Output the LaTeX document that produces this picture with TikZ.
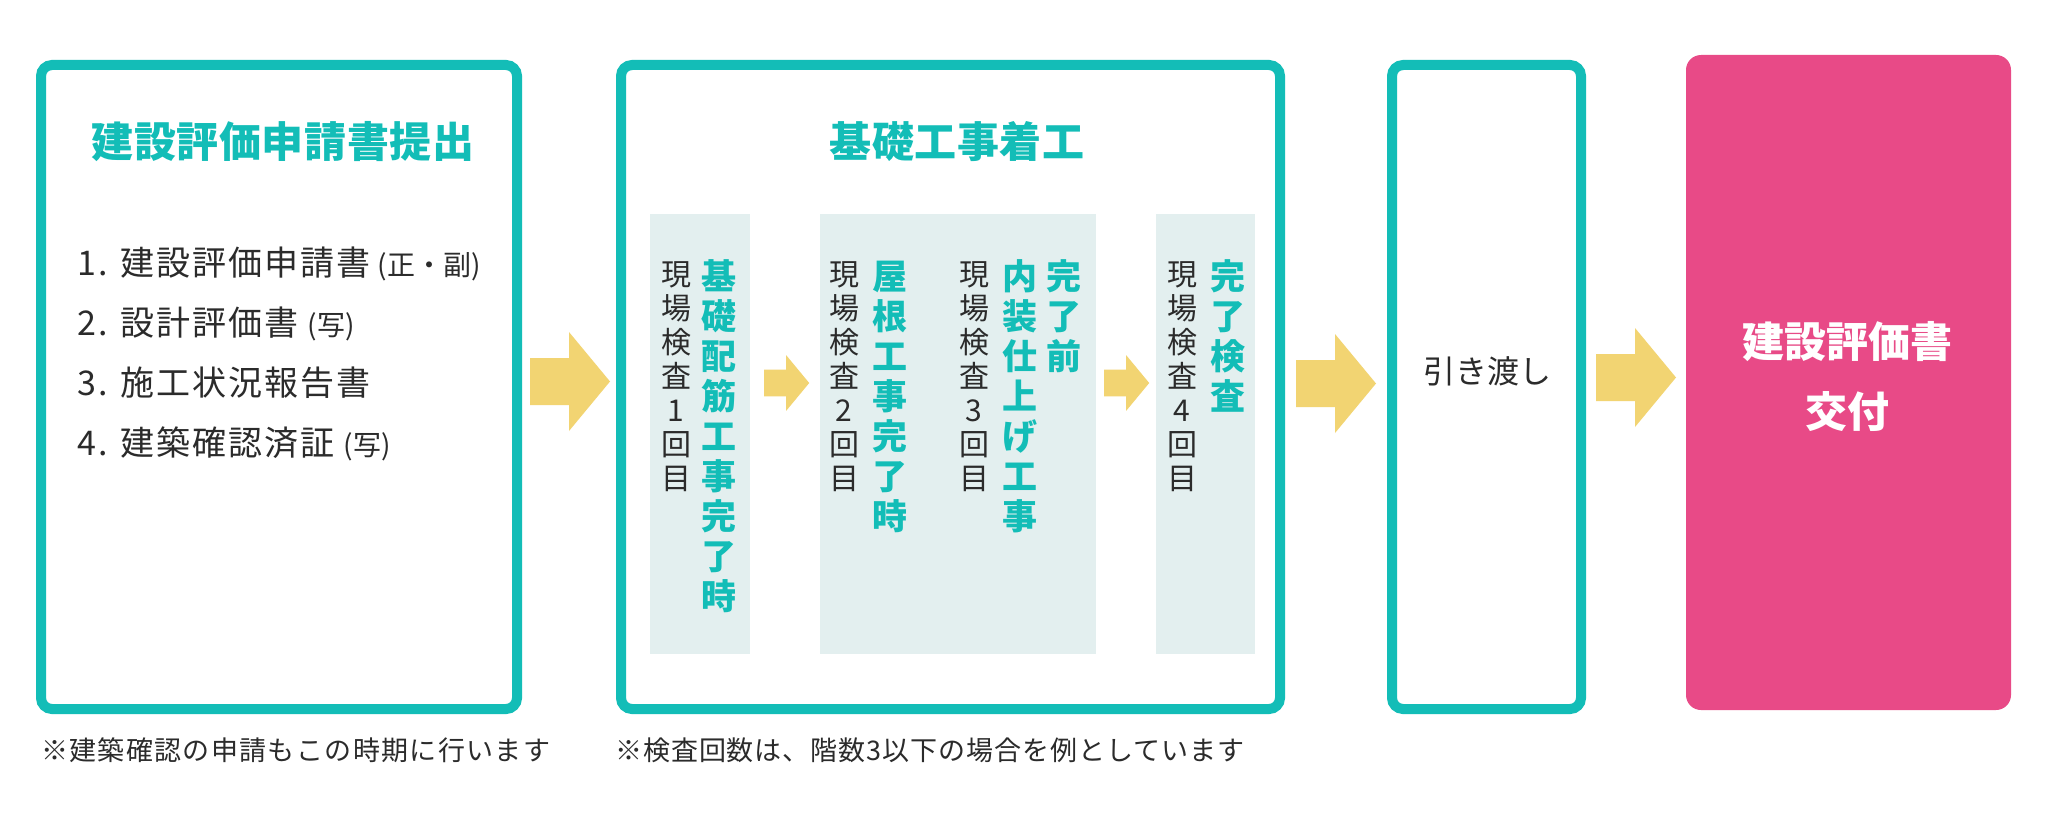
\documentclass[tikz,border=0pt]{standalone}
\usepackage{fontspec}
\setmainfont{Noto Sans CJK JP}
\definecolor{tealc}{HTML}{13BDB7}
\definecolor{pinkc}{HTML}{E84A87}
\definecolor{arrowc}{HTML}{F2D472}
\definecolor{stripec}{HTML}{E3EFEF}
\definecolor{darkc}{HTML}{2B2B2B}
\newcommand\vcolumn[6]{%
  \foreach \ch [count=\i from 0] in {#6}
    \node[#5] (#1-\i) at (#2, #3+\i*#4) {\ch};}
\begin{document}
\begin{tikzpicture}[x=1pt,y=-1pt,
  tealbox/.style={draw=tealc, line width=10pt, rounded corners=11pt, fill=white, inner sep=0pt},
  pinkbox/.style={fill=pinkc, rounded corners=15pt, inner sep=0pt},
  stripebox/.style={fill=stripec, inner sep=0pt},
  title/.style={text=tealc, font=\fontsize{42}{50}\selectfont\bfseries\addfontfeatures{LetterSpace=1.5}, anchor=base, inner sep=0pt},
  wtitle/.style={text=white, font=\fontsize{42}{50}\selectfont\bfseries, anchor=base, inner sep=0pt},
  item/.style={text=darkc, font=\fontsize{34}{40}\selectfont\addfontfeatures{LetterSpace=6}, anchor=base west, inner sep=0pt},
  paren/.style={text=darkc, font=\fontsize{28}{32}\selectfont, anchor=base west, inner sep=0pt},
  plain/.style={text=darkc, font=\fontsize{32}{38}\selectfont, anchor=base, inner sep=0pt},
  note/.style={text=darkc, font=\fontsize{27}{30}\selectfont\addfontfeatures{LetterSpace=5}, anchor=base west, inner sep=0pt},
  note2/.style={text=darkc, font=\fontsize{27}{30}\selectfont\addfontfeatures{LetterSpace=3.5}, anchor=base west, inner sep=0pt},
  vg/.style={text=darkc, font=\fontsize{30}{34}\selectfont, anchor=base, inner sep=0pt},
  vt/.style={text=tealc, font=\fontsize{35}{40}\selectfont\bfseries, anchor=base, inner sep=0pt},
  bigarrow/.pic={\fill[arrowc] (0,-23.5) -- (39,-23.5) -- (39,-49.5) -- (80,0) -- (39,49.5) -- (39,23.5) -- (0,23.5) -- cycle;}
]
\useasboundingbox (0,0) rectangle (2048,824);
\fill[white] (0,0) rectangle (2048,824);

% boxes
\node[tealbox, minimum width=476pt, minimum height=644pt] (b1) at (279,387) {};
\node[tealbox, minimum width=659pt, minimum height=644pt] (b2) at (950.5,387) {};
\node[tealbox, minimum width=189pt, minimum height=644pt] (b3) at (1486.5,387) {};
\node[pinkbox, minimum width=325pt, minimum height=655pt] (b4) at (1848.5,382.5) {};

% stripes
\node[stripebox, minimum width=100pt, minimum height=440pt] (s1) at (700,434) {};
\node[stripebox, minimum width=276pt, minimum height=440pt] (s2) at (958,434) {};
\node[stripebox, minimum width=99pt, minimum height=440pt] (s3) at (1205.5,434) {};

% big arrows
\pic at (530,381.5) {bigarrow};
\pic at (1296,383.5) {bigarrow};
\pic at (1596,377.5) {bigarrow};
% small arrows
\pic[scale=0.565] at (764,383) {bigarrow};
\pic[scale=0.565] at (1104,383) {bigarrow};

% box 1
\node[title] (t1) at (283,157.5) {建設評価申請書提出};
\node[item] (n1) at (77,275) {1.};
\node[item] (i1) at (120,275) {建設評価申請書};
\node[paren] (p1) at ([xshift=7pt]i1.base east) {(正・副)};
\node[item] (n2) at (77,335) {2.};
\node[item] (i2) at (120,335) {設計評価書};
\node[paren] (p2) at ([xshift=9pt]i2.base east) {(写)};
\node[item] (n3) at (77,395) {3.};
\node[item] (i3) at (120,395) {施工状況報告書};
\node[item] (n4) at (77,455) {4.};
\node[item] (i4) at (120,455) {建築確認済証};
\node[paren] (p4) at ([xshift=9pt]i4.base east) {(写)};

% box 2
\node[title] (t2) at (957,157.5) {基礎工事着工};
\vcolumn{ga}{676}{285}{34}{vg}{現,場,検,査,1,回,目}
\vcolumn{ta}{719}{289}{40}{vt}{基,礎,配,筋,工,事,完,了,時}
\vcolumn{gb}{844}{285}{34}{vg}{現,場,検,査,2,回,目}
\vcolumn{tb}{890}{289}{40}{vt}{屋,根,工,事,完,了,時}
\vcolumn{gc}{974}{285}{34}{vg}{現,場,検,査,3,回,目}
\vcolumn{tc}{1020}{289}{40}{vt}{内,装,仕,上,げ,工,事}
\vcolumn{td}{1064}{289}{40}{vt}{完,了,前}
\vcolumn{gd}{1182}{285}{34}{vg}{現,場,検,査,4,回,目}
\vcolumn{te}{1228}{289}{40}{vt}{完,了,検,査}

% box 3
\node[plain] (h3) at (1487,383) {引き渡し};

% box 4
\node[wtitle] (w1) at (1847,357) {建設評価書};
\node[wtitle] (w2) at (1847,427) {交付};

% notes
\node[note] (f1) at (41,760) {※建築確認の申請もこの時期に行います};
\node[note2] (f2) at (615,760) {※検査回数は、階数3以下の場合を例としています};
\end{tikzpicture}
\end{document}
